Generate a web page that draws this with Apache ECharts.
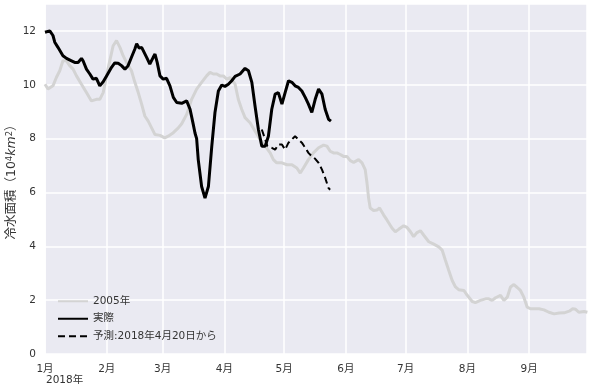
<!DOCTYPE html>
<html>
<head>
<meta charset="utf-8">
<script src="https://cdn.jsdelivr.net/npm/echarts@6/dist/echarts.min.js"></script>
<style>
html,body{margin:0;padding:0;background:#fff;}
#chart{width:591px;height:392px;}
</style>
</head>
<body>
<div id="chart"></div>
<script>
// Days since 2018-01-01 and values (10^4 km^2)
const days2005 = [0,1.5,2.4,4,5.7,7.4,9,10.8,12.4,14.1,15.8,18.3,20.8,23.3,25.8,27.5,29.2,30.9,32.5,34.2,35.9,37.6,39.2,40.9,43.4,45.1,46.8,48.5,50.1,51.8,53.5,55.2,57.7,60.1,61.8,64.4,66.9,68.6,71.1,73.6,76.1,78.6,81.1,82.8,84.5,86.2,87.8,89.5,91.2,92.9,95.4,97,98.7,100.4,102.9,105.4,107.9,110.5,113,114.6,116.3,118.9,121.4,123.9,126.4,128.1,129.7,132.2,134.7,137.3,139.8,141.5,143.1,144.8,146.5,148.2,149.8,151.5,153.2,154.9,157.4,159.1,160.7,161.6,162.4,163.2,164.9,166.6,167.9,169.9,171.6,174.2,175.8,177.5,180,181.7,183.4,185,186.7,188.4,190,192.6,195.1,197.6,199.3,200.9,202.6,204.3,206,207.6,210.2,211.9,214.4,216,218.5,221.1,222.7,224.4,226.1,228.6,230.3,232,233.6,235.3,237,238.6,240.3,242,243.6,245.3,247.9,250.4,252.9,255.5,258,260.5,263.1,264.8,266.3,267.9,270.5,272.2];
const values2005 = [10.02,9.84,9.77,9.96,10.27,10.52,10.89,10.89,10.71,10.58,10.33,10.02,9.71,9.40,9.46,9.46,9.71,10.33,10.89,11.45,11.64,11.39,11.08,10.83,10.52,10.09,9.71,9.28,8.84,8.65,8.40,8.15,8.12,8.03,8.09,8.22,8.40,8.55,8.90,9.46,9.84,10.09,10.33,10.46,10.40,10.40,10.33,10.33,10.21,10.27,10.02,9.46,9.09,8.78,8.59,8.28,7.97,7.72,7.47,7.22,7.10,7.10,7.03,7.03,6.91,6.72,6.91,7.22,7.47,7.66,7.76,7.72,7.53,7.47,7.47,7.41,7.34,7.34,7.18,7.12,7.22,7.10,6.85,6.35,5.79,5.42,5.33,5.35,5.42,5.17,4.98,4.67,4.54,4.63,4.76,4.70,4.54,4.36,4.51,4.58,4.42,4.17,4.08,3.98,3.86,3.49,3.11,2.74,2.49,2.39,2.36,2.18,1.95,1.91,1.99,2.05,2.05,1.99,2.09,2.18,1.99,2.11,2.49,2.58,2.47,2.36,2.11,1.74,1.68,1.68,1.68,1.64,1.55,1.49,1.52,1.53,1.59,1.68,1.66,1.55,1.58,1.55];

const daysActual = [0,2.4,4,4.9,6.5,7.4,9,10.8,13.3,14.9,16.6,18.3,19.1,20.8,22.5,24.1,25.8,27.5,29.2,30.9,33.4,35,36.7,38.4,40.1,41.7,43.4,45.1,46,47.3,48.5,49.3,51,52.6,54.3,55.2,56.3,57.7,59.3,61,62.7,64.4,66.1,68.6,71.1,72.8,74.4,75.3,76.1,76.9,78.6,80.3,82,83.7,85.3,87,88.7,90.3,92,93.7,95.4,97.9,100.4,102.1,103.8,105.4,107.1,108.8,110.5,112.1,113.8,115.5,117.1,118.9,120.5,122.2,123.9,125.5,127.2,128.9,130.6,132.2,133.9,135.6,137.3,139,140.6,142.3,143.5];
const valuesActual = [11.95,12.0,11.83,11.58,11.39,11.33,11.08,10.98,10.89,10.83,10.83,10.98,10.89,10.58,10.40,10.21,10.24,9.96,10.11,10.33,10.65,10.81,10.80,10.71,10.58,10.71,11.02,11.33,11.52,11.36,11.39,11.45,11.02,10.77,11.02,11.14,10.83,10.33,10.21,10.24,9.96,9.53,9.34,9.31,9.40,9.09,8.53,8.20,8.00,7.22,6.22,5.79,6.22,7.72,8.97,9.77,9.99,9.94,10.02,10.15,10.31,10.40,10.61,10.52,10.09,9.21,8.34,7.72,7.72,8.09,9.09,9.65,9.71,9.28,9.71,10.15,10.09,9.96,9.90,9.77,9.53,9.28,8.97,9.46,9.84,9.65,9.09,8.72,8.65];

const daysForecast = [108.8,110.5,111.6,113.8,115.5,117.1,118.9,120.5,122.2,123.9,125.5,127.2,128.9,130.6,132.2,133.9,135.6,137.3,139,140.6,142.3,143.1];
const valuesForecast = [8.34,7.97,7.72,7.66,7.59,7.78,7.78,7.59,7.85,7.97,8.09,7.97,7.85,7.66,7.47,7.34,7.25,7.10,6.85,6.54,6.16,6.10];

const seriesNames = ['2005年', '実際', '予測:2018年4月20日から'];
const yTicks = [0, 2, 4, 6, 8, 10, 12];

const base = new Date(2018, 0, 1).getTime();
const DAY = 86400000;
function pairs(ds, vs) { return ds.map((d, i) => [base + d * DAY, vs[i]]); }

const FONT = '"DejaVu Sans", "Noto Sans CJK JP", sans-serif';
const chart = echarts.init(document.getElementById('chart'), null, {renderer: 'canvas'});
chart.setOption({
  animation: false,
  textStyle: {fontFamily: FONT},
  grid: {left: 45, right: 4, top: 4, bottom: 38, show: true, backgroundColor: '#EAEAF2', borderWidth: 0,
         containLabel: false, outerBoundsMode: 'none'},
  xAxis: {
    type: 'time',
    min: new Date(2018, 0, 1).getTime(),
    max: new Date(2018, 8, 30).getTime(),
    splitNumber: 9,
    axisLine: {show: false},
    axisTick: {show: false},
    splitLine: {show: true, lineStyle: {color: '#ffffff', width: 1.5}},
    axisLabel: {
      color: '#333', fontSize: 10.5, margin: 10, fontFamily: FONT,
      formatter: function (v) { return (new Date(v).getMonth() + 1) + '月'; }
    }
  },
  yAxis: {
    type: 'value',
    min: yTicks[0], max: 13, interval: 2,
    axisLine: {show: false},
    axisTick: {show: false},
    splitLine: {show: true, lineStyle: {color: '#ffffff', width: 1.5}},
    axisLabel: {color: '#333', fontSize: 10.5, margin: 9, showMaxLabel: false, fontFamily: FONT},
    name: '冷水面積（10{sup|4}{it|km}{sup|2}）',
    nameLocation: 'middle',
    nameRotate: 90,
    nameGap: 27,
    nameMoveOverlap: false,
    nameTextStyle: {
      color: '#333', fontSize: 12.5, fontFamily: FONT,
      rich: {
        sup: {fontSize: 8.5, verticalAlign: 'top', color: '#333', fontFamily: FONT},
        it: {fontSize: 12.5, fontStyle: 'italic', color: '#333', fontFamily: FONT}
      }
    }
  },
  legend: {
    orient: 'vertical',
    left: 52, top: 291,
    itemWidth: 30, itemHeight: 12, itemGap: 7,
    itemStyle: {opacity: 0},
    textStyle: {color: '#333', fontSize: 10.5, fontFamily: FONT},
    data: seriesNames
  },
  graphic: [{
    type: 'text', left: 46, top: 375,
    style: {text: '2018年', fill: '#333', font: '10.5px ' + FONT}
  }],
  series: [
    {name: seriesNames[0], type: 'line', data: pairs(days2005, values2005), symbol: 'none',
     lineStyle: {color: '#d3d3d3', width: 3}, itemStyle: {color: '#d3d3d3'}, z: 1},
    {name: seriesNames[1], type: 'line', data: pairs(daysActual, valuesActual), symbol: 'none',
     lineStyle: {color: '#000', width: 3}, itemStyle: {color: '#000'}, z: 3},
    {name: seriesNames[2], type: 'line', data: pairs(daysForecast, valuesForecast), symbol: 'none',
     lineStyle: {color: '#000', width: 2, type: [7, 4]}, itemStyle: {color: '#000'}, z: 2}
  ]
});
</script>
</body>
</html>
